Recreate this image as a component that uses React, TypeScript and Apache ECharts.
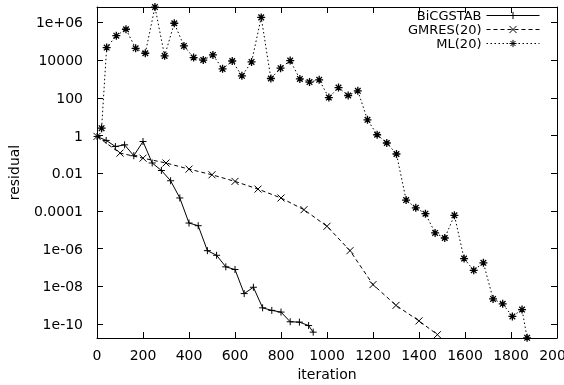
import React, { useEffect, useRef } from 'react';
import * as echarts from 'echarts';

// ---- data ----
const bicgIter = [0, 40, 80, 120, 160, 200, 240, 280, 320, 360, 400, 440, 480, 520, 560, 600, 640, 680, 720, 760, 800, 840, 880, 920, 940];
const bicgRes = [0.89, 0.55, 0.26, 0.32, 0.085, 0.48, 0.035, 0.014, 4.0e-3, 4.9e-4, 2.3e-5, 1.66e-5, 7.9e-7, 4.5e-7, 1.1e-7, 7.9e-8, 4.2e-9, 9.1e-9, 7.4e-10, 5.4e-10, 4.4e-10, 1.35e-10, 1.29e-10, 8.5e-11, 3.8e-11];

const gmresIter = [0, 100, 200, 300, 400, 500, 600, 700, 800, 900, 1000, 1100, 1200, 1300, 1400, 1480];
const gmresRes = [0.9, 0.117, 0.063, 0.035, 0.0166, 0.0083, 0.0037, 1.45e-3, 4.9e-4, 1.17e-4, 1.55e-5, 7.9e-7, 1.26e-8, 1.0e-9, 1.5e-10, 2.8e-11];

const mlIter = [20, 42, 84, 126, 168, 210, 252, 294, 336, 378, 420, 462, 504, 546, 588, 630, 672, 714, 756, 798, 840, 882, 924, 966, 1008, 1050, 1092, 1134, 1176, 1218, 1260, 1302, 1344, 1386, 1428, 1470, 1512, 1554, 1596, 1638, 1680, 1722, 1764, 1806, 1848, 1870];
const mlRes = [2.45, 4.57e4, 1.95e5, 4.27e5, 4.17e4, 2.29e4, 6.4e6, 1.66e4, 8.9e5, 5.6e4, 1.35e4, 1.0e4, 1.86e4, 3.4e3, 8.9e3, 1.45e3, 7.9e3, 1.82e6, 1.05e3, 3.7e3, 9.3e3, 1.0e3, 680, 890, 102, 347, 132, 234, 6.8, 1.1, 0.4, 0.105, 3.8e-4, 1.48e-4, 7.2e-5, 6.9e-6, 3.7e-6, 5.9e-5, 3.0e-7, 7.2e-8, 1.8e-7, 2.2e-9, 1.2e-9, 2.6e-10, 6.0e-10, 1.9e-11];

const seriesNames = ['BiCGSTAB', 'GMRES(20)', 'ML(20)'];
const xTickValues = [0, 200, 400, 600, 800, 1000, 1200, 1400, 1600, 1800, 2000];
const yTickExponents = [-10, -8, -6, -4, -2, 0, 2, 4, 6];

// axis extent in log10 space
const Y_MIN = -10.73;
const Y_MAX = 6.81;

const FONT = 'DejaVu Sans';

const PLUS = 'path://M0,5L10,5M5,0L5,10';
const CROSS = 'path://M0,0L10,10M10,0L0,10';
const STAR = 'path://M0,5L10,5M5,0L5,10M1.5,1.5L8.5,8.5M8.5,1.5L1.5,8.5';

function fmtExp(v: number): string {
  const e = Math.round(v);
  if (!yTickExponents.includes(e)) return '';
  const a = Math.abs(e);
  if (e >= 6 || e <= -5) return '1e' + (e < 0 ? '-' : '+') + (a < 10 ? '0' + a : String(a));
  if (e >= 0) return '1' + '0'.repeat(e);
  return '0.' + '0'.repeat(a - 1) + '1';
}

function pts(iter: number[], res: number[]) {
  return iter.map((x, i) => [x, Math.log10(res[i])]);
}

export default function App() {
  const ref = useRef<HTMLDivElement>(null);
  useEffect(() => {
    if (!ref.current) return;
    const chart = echarts.init(ref.current, undefined, { renderer: 'svg' });
    const axisLine = { show: true, onZero: false, lineStyle: { color: '#000', width: 1 } };
    const tick = { show: true, inside: true, length: 6, lineStyle: { color: '#000', width: 1 } };
    const mk = (name: string, data: number[][], symbol: string, dash: any, size: number, bw: number) => ({
      name,
      type: 'line',
      data,
      symbol,
      symbolSize: size,
      showSymbol: true,
      lineStyle: { color: '#000', width: 1, type: dash },
      itemStyle: { color: '#000', borderColor: '#000', borderWidth: bw },
      emphasis: { disabled: true },
    });
    chart.setOption({
      animation: false,
      textStyle: { fontFamily: FONT },
      grid: { left: 97, right: 7, top: 7, bottom: 47, containLabel: false, outerBoundsMode: 'none', show: false },
      legend: {
        orient: 'vertical',
        align: 'right',
        right: 24,
        top: 9,
        padding: 0,
        itemGap: 1,
        itemWidth: 53,
        itemHeight: 9,
        data: seriesNames,
        itemStyle: { color: '#000', borderColor: '#000', borderWidth: 1 },
        lineStyle: { width: 1, color: '#000' },
        textStyle: { fontFamily: FONT, fontSize: 13, color: '#000', lineHeight: 13 },
      },
      xAxis: [
        {
          type: 'value',
          min: xTickValues[0],
          max: xTickValues[xTickValues.length - 1],
          interval: 200,
          position: 'bottom',
          name: 'iteration',
          nameLocation: 'middle',
          nameGap: 28,
          nameTextStyle: { fontFamily: FONT, fontSize: 14, color: '#000' },
          axisLine,
          axisTick: tick,
          splitLine: { show: false },
          axisLabel: { color: '#000', fontFamily: FONT, fontSize: 14, margin: 10, formatter: (v: number) => String(v) },
        },
        {
          type: 'value',
          min: xTickValues[0],
          max: xTickValues[xTickValues.length - 1],
          interval: 200,
          position: 'top',
          axisLine,
          axisTick: tick,
          splitLine: { show: false },
          axisLabel: { show: false },
        },
      ],
      yAxis: [
        {
          type: 'value',
          min: Y_MIN,
          max: Y_MAX,
          splitNumber: 9,
          position: 'left',
          name: 'residual',
          nameLocation: 'middle',
          nameGap: 76,
          nameTextStyle: { fontFamily: FONT, fontSize: 14, color: '#000' },
          axisLine,
          axisTick: tick,
          splitLine: { show: false },
          axisLabel: {
            color: '#000',
            fontFamily: FONT,
            fontSize: 14,
            margin: 14,
            showMinLabel: false,
            showMaxLabel: false,
            formatter: (v: number) => fmtExp(v),
          },
        },
        {
          type: 'value',
          min: Y_MIN,
          max: Y_MAX,
          splitNumber: 9,
          position: 'right',
          axisLine,
          axisTick: tick,
          splitLine: { show: false },
          axisLabel: { show: false },
        },
      ],
      series: [
        mk(seriesNames[0], pts(bicgIter, bicgRes), PLUS, 'solid', 7, 1),
        mk(seriesNames[1], pts(gmresIter, gmresRes), CROSS, [4, 3], 7, 1),
        mk(seriesNames[2], pts(mlIter, mlRes), STAR, [1.5, 2.5], 8, 1.3),
      ],
    });
    return () => chart.dispose();
  }, []);
  return <div ref={ref} style={{ position: 'fixed', left: 0, top: 0, width: 564, height: 385 }} />;
}
